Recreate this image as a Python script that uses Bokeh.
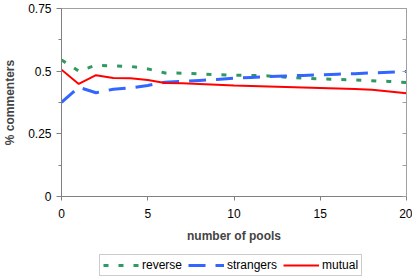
from bokeh.plotting import figure
from bokeh.models import Range1d, FixedTicker, LinearAxis, Legend, LegendItem
from bokeh.layouts import column
from bokeh.embed import file_html
from bokeh.resources import INLINE

pools = list(range(0, 21))
reverse = [0.545, 0.500, 0.524, 0.521, 0.519, 0.509, 0.493, 0.492, 0.489, 0.486, 0.484,
           0.483, 0.481, 0.476, 0.472, 0.469, 0.467, 0.465, 0.462, 0.459, 0.455]
strangers = [0.376, 0.436, 0.414, 0.428, 0.433, 0.443, 0.456, 0.459, 0.463, 0.467, 0.472,
             0.475, 0.478, 0.481, 0.483, 0.485, 0.488, 0.490, 0.493, 0.496, 0.499]
mutual = [0.506, 0.449, 0.484, 0.473, 0.472, 0.465, 0.453, 0.452, 0.449, 0.446, 0.443,
          0.441, 0.439, 0.437, 0.435, 0.433, 0.431, 0.429, 0.426, 0.419, 0.412]

x_ticks = [0, 5, 10, 15, 20]
y_ticks = [0, 0.25, 0.5, 0.75]
y_labels = ["0", "0.25", "0.5", "0.75"]
y_minor = [0.125, 0.375, 0.625]
series_names = ["reverse", "strangers", "mutual"]

FONT = "Liberation Sans"
COLORS = ["#2e9960", "#3366ff", "#ff0000"]
WIDTHS = [3, 3, 2]
DASHES = ["5 10", "17 10", "solid"]

p = figure(frame_width=345, frame_height=188, output_backend="svg", toolbar_location=None,
           x_range=Range1d(0, 20), y_range=Range1d(0, 0.75),
           min_border_left=60, min_border_right=6, min_border_top=8, min_border_bottom=56)
p.background_fill_color = "white"
p.border_fill_color = "white"
p.outline_line_color = "#a0a0a0"
p.xgrid.visible = False
p.ygrid.visible = False

for ys, c, w, d in zip([reverse, strangers, mutual], COLORS, WIDTHS, DASHES):
    p.line(pools, ys, line_color=c, line_width=w, line_dash=d)

# x axis
xa = p.xaxis[0]
xa.ticker = FixedTicker(ticks=x_ticks, minor_ticks=[])
xa.axis_label = "number of pools"
xa.axis_label_text_font = FONT
xa.axis_label_text_font_style = "bold"
xa.axis_label_text_font_size = "12px"
xa.axis_label_standoff = 8
xa.major_label_text_font = FONT
xa.major_label_text_font_size = "12px"
xa.major_label_text_color = "#000000"
xa.major_label_standoff = 8
xa.major_tick_out = 4
xa.major_tick_in = 0
xa.minor_tick_out = 0
xa.axis_line_color = "#808080"
xa.major_tick_line_color = "#808080"

# y axis
ya = p.yaxis[0]
ya.ticker = FixedTicker(ticks=y_ticks, minor_ticks=y_minor)
ya.major_label_overrides = {t: l for t, l in zip(y_ticks, y_labels)}
ya.axis_label = "% commenters"
ya.axis_label_text_font = FONT
ya.axis_label_text_font_style = "bold"
ya.axis_label_text_font_size = "12px"
ya.axis_label_standoff = 8
ya.major_label_text_font = FONT
ya.major_label_text_font_size = "12px"
ya.major_label_text_color = "#000000"
ya.major_label_standoff = 5
ya.major_tick_out = 5
ya.major_tick_in = 0
ya.minor_tick_out = 3
ya.minor_tick_in = 0
ya.axis_line_color = "#808080"
ya.major_tick_line_color = "#808080"
ya.minor_tick_line_color = "#808080"

# right axis with inward ticks, no labels
r_ticks = y_ticks + y_minor
ra = LinearAxis(ticker=FixedTicker(ticks=r_ticks, minor_ticks=[]))
ra.major_label_overrides = {t: "" for t in r_ticks}
ra.major_label_standoff = 0
ra.major_tick_in = 4
ra.major_tick_out = 0
ra.minor_tick_out = 0
ra.axis_line_color = "#a0a0a0"
ra.major_tick_line_color = "#a0a0a0"
p.add_layout(ra, "right")

# legend strip (its own small figure; the series lines lie outside its ranges)
lg = figure(width=415, height=24, output_backend="svg", toolbar_location=None,
            x_range=Range1d(-100, -99), y_range=Range1d(-100, -99),
            x_axis_type=None, y_axis_type=None,
            min_border_left=0, min_border_right=0, min_border_top=0, min_border_bottom=0)
lg.outline_line_color = None
lg.xgrid.visible = False
lg.ygrid.visible = False
items = []
for name, ys, c, w, d in zip(series_names, [reverse, strangers, mutual], COLORS, WIDTHS, DASHES):
    r = lg.line(pools, ys, line_color=c, line_width=w, line_dash=d)
    items.append(LegendItem(label=name, renderers=[r]))

legend = Legend(items=items, orientation="horizontal", location=(38, 0))
legend.label_text_font = FONT
legend.label_text_font_size = "12px"
legend.label_text_color = "#000000"
legend.glyph_width = 36
legend.glyph_height = 14
legend.label_height = 14
legend.label_standoff = 3
legend.spacing = 6
legend.padding = 3
legend.margin = 0
legend.border_line_color = "#999999"
legend.border_line_width = 1
legend.background_fill_color = "white"
lg.add_layout(legend, "center")

layout = column(p, lg, spacing=0)
open("out.html", "w").write(file_html(layout, INLINE))
